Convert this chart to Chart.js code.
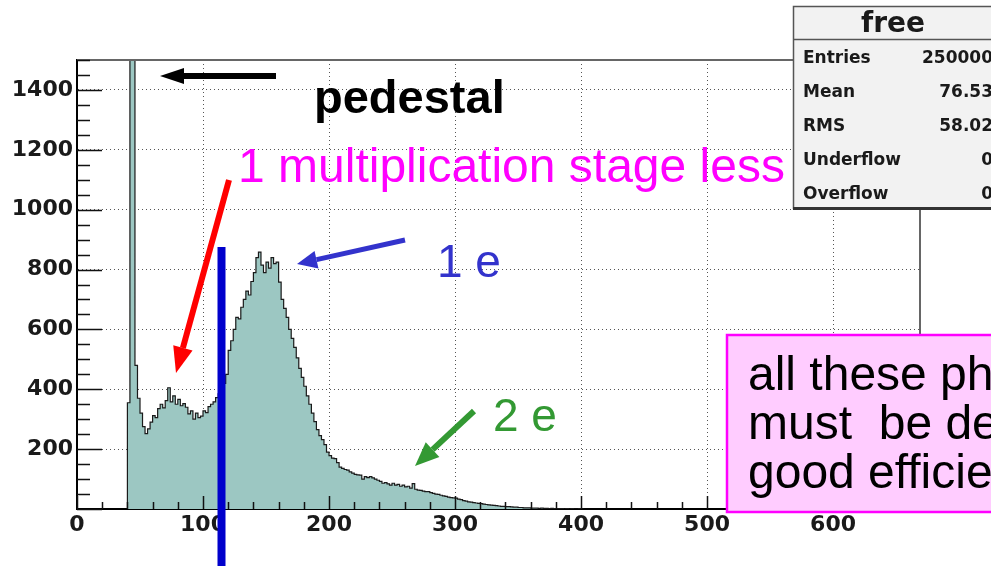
<!DOCTYPE html>
<html>
<head>
<meta charset="utf-8">
<script src="https://cdn.jsdelivr.net/npm/chart.js@4.4.1/dist/chart.umd.min.js"></script>
<style>
  html, body { margin: 0; padding: 0; background: #fff; }
  canvas { display: block; }
</style>
</head>
<body>
<canvas id="chart" width="991" height="566"></canvas>
<script>
// histogram "free": 2-unit bins, first bin starts at 40 (pedestal spike in bins 42/44 runs off scale)
const binLow = 40;
const binWidth = 2;
const counts = [
  355, 41000, 23000, 480, 370, 320, 275, 252, 268, 290,   // 40
  312, 305, 335, 350, 338, 362, 405, 358, 378, 350,       // 60
  366, 345, 352, 340, 318, 328, 300, 320, 305, 310,       // 80
  328, 322, 342, 350, 358, 372, 385, 400, 420, 450,       // 100
  530, 562, 600, 640, 635, 674, 700, 728, 715, 760,       // 120
  790, 840, 858, 815, 790, 825, 805, 840, 820, 825,       // 140
  758, 700, 670, 640, 600, 570, 540, 505, 470, 440,       // 160
  410, 378, 350, 320, 292, 265, 245, 232, 215, 190,       // 180
  178, 170, 168, 155, 140, 136, 132, 130, 124, 120,       // 200
  116, 114, 113, 100, 108, 105, 108, 104, 100, 96,        // 220
  92, 86, 88, 84, 80, 86, 80, 82, 76, 80,                 // 240
  74, 76, 70, 85, 66, 63, 62, 60, 58, 58,                 // 260
  55, 52, 50, 49, 46, 44, 42, 40, 38, 37,                 // 280
  36, 33, 31, 28, 26, 24, 23, 21, 20, 19,                 // 300
  18, 16, 15, 14, 13, 12, 11, 10, 9, 9,                   // 320
  8, 8, 7, 6, 6, 5, 5, 4, 4, 4,                           // 340
  3, 3, 3, 2, 3, 2, 2, 1, 2, 1,                           // 360
  1, 1, 1, 0, 1, 0, 1, 0, 0, 1,                           // 380
  0                                                       // 400
];
const xMin = 0, xMax = 669, xStep = 100, xMinor = 20;
const yMin = 0, yMax = 1500, yStep = 200, yMinor = 50;

const statTitle = 'free';
const statLabels = ['Entries', 'Mean', 'RMS', 'Underflow', 'Overflow'];
const statValues = ['250000', '76.53', '58.02', '0', '0'];

const noteLines = ['all these photoelectrons', 'must  be detected with', 'good efficiency'];

let
  points = [{ x: binLow, y: 0 }],
  tickFont = { family: 'DejaVu Sans', size: 22, weight: 'bold' };

counts.forEach(function(c, i) {
  points.push({ x: binLow + i * binWidth, y: c });
});
points.push({ x: binLow + counts.length * binWidth, y: 0 });

function arrow(ctx, x1, y1, x2, y2, color, w, headLen, headW) {
  let
    ang = Math.atan2(y2 - y1, x2 - x1),
    bx = x2 - Math.cos(ang) * headLen,
    by = y2 - Math.sin(ang) * headLen;
  ctx.save();
  ctx.strokeStyle = color;
  ctx.fillStyle = color;
  ctx.lineWidth = w;
  ctx.lineCap = 'butt';
  ctx.beginPath();
  ctx.moveTo(x1, y1);
  ctx.lineTo(bx, by);
  ctx.stroke();
  ctx.beginPath();
  ctx.moveTo(x2, y2);
  ctx.lineTo(bx + Math.sin(ang) * headW, by - Math.cos(ang) * headW);
  ctx.lineTo(bx - Math.sin(ang) * headW, by + Math.cos(ang) * headW);
  ctx.closePath();
  ctx.fill();
  ctx.restore();
}

const rootFrame = {
  id: 'rootFrame',
  afterDatasetsDraw(chart) {
    let
      ctx = chart.ctx,
      a = chart.chartArea,
      xs = chart.scales.x,
      ys = chart.scales.y;
    ctx.save();
    // top and right frame
    ctx.strokeStyle = '#666';
    ctx.lineWidth = 2;
    ctx.beginPath();
    ctx.moveTo(a.left, a.top);
    ctx.lineTo(a.right, a.top);
    ctx.lineTo(a.right, a.bottom);
    ctx.stroke();
    // inside ticks, ROOT style
    ctx.strokeStyle = '#111';
    ctx.lineWidth = 1.5;
    ctx.beginPath();
    for (let v = yMin; v <= yMax; v += yMinor) {
      let y = Math.round(ys.getPixelForValue(v)) + 0.5;
      ctx.moveTo(a.left, y);
      ctx.lineTo(a.left + (v % yStep === 0 ? 25 : 13), y);
    }
    for (let v = xMin; v <= xMax; v += xMinor) {
      let x = Math.round(xs.getPixelForValue(v)) + 0.5;
      ctx.moveTo(x, a.bottom);
      ctx.lineTo(x, a.bottom - (v % xStep === 0 ? 13 : 7));
    }
    ctx.stroke();
    ctx.restore();
  },
  afterDraw(chart) {
    let ctx = chart.ctx;
    ctx.save();

    // stats box
    ctx.fillStyle = '#f2f2f2';
    ctx.fillRect(793, 6, 210, 203);
    ctx.strokeStyle = '#555';
    ctx.lineWidth = 1.5;
    ctx.strokeRect(793.5, 6.5, 210, 202);
    ctx.beginPath();
    ctx.moveTo(793, 39.5);
    ctx.lineTo(1000, 39.5);
    ctx.stroke();
    ctx.fillStyle = '#333';
    ctx.fillRect(793, 207, 210, 3);
    ctx.fillStyle = '#1a1a1a';
    ctx.font = 'bold 28px "DejaVu Sans"';
    ctx.textAlign = 'center';
    ctx.textBaseline = 'alphabetic';
    ctx.fillText(statTitle, 893, 32);
    ctx.font = 'bold 17px "DejaVu Sans"';
    statLabels.forEach(function(lab, i) {
      let y = 63 + i * 34;
      ctx.textAlign = 'left';
      ctx.fillText(lab, 803, y);
      ctx.textAlign = 'right';
      ctx.fillText(statValues[i], 993, y);
    });

    // pink note box
    ctx.fillStyle = '#ffccff';
    ctx.fillRect(727, 335, 270, 177);
    ctx.strokeStyle = '#ff00ff';
    ctx.lineWidth = 2.5;
    ctx.strokeRect(727, 335, 270, 177);
    ctx.fillStyle = '#000';
    ctx.textAlign = 'left';
    ctx.font = '48px "Liberation Sans"';
    noteLines.forEach(function(t, i) {
      ctx.fillText(t, 748, 390 + i * 49);
    });

    // slide labels
    ctx.font = 'bold 47px "Liberation Sans"';
    ctx.fillStyle = '#000';
    ctx.fillText('pedestal', 314, 113);
    ctx.font = '48px "Liberation Sans"';
    ctx.fillStyle = '#ff00ff';
    ctx.fillText('1 multiplication stage less', 238, 182);
    ctx.font = '46px "Liberation Sans"';
    ctx.fillStyle = '#3333cc';
    ctx.fillText('1 e', 437, 277);
    ctx.fillStyle = '#339933';
    ctx.fillText('2 e', 493, 431);

    // arrows
    arrow(ctx, 276, 76, 160, 76, '#000', 6, 24, 8);
    arrow(ctx, 229, 180, 176, 373, '#ff0000', 6, 26, 10);
    arrow(ctx, 405, 240, 297, 264, '#3333cc', 5, 20, 9);
    arrow(ctx, 474, 411, 415, 466, '#339933', 6, 24, 10);

    // threshold line
    ctx.fillStyle = '#0000cc';
    ctx.fillRect(217.5, 247, 8, 319);
    ctx.restore();
  }
};

let chart = new Chart(document.getElementById('chart').getContext('2d'), {
  type: 'line',
  data: {
    datasets: [{
      data: points,
      stepped: true,
      fill: 'origin',
      backgroundColor: '#9cc7c2',
      borderColor: '#1a1a1a',
      borderWidth: 1.2,
      pointRadius: 0
    }]
  },
  options: {
    responsive: false,
    animation: false,
    devicePixelRatio: 1,
    layout: { padding: { top: 60, right: 71, left: 0, bottom: 0 } },
    plugins: { legend: { display: false }, tooltip: { enabled: false } },
    scales: {
      x: {
        type: 'linear',
        min: xMin,
        max: xMax,
        afterFit: function(s) { s.height = 57; },
        grid: { color: '#555', lineWidth: 1, drawTicks: false },
        border: { display: true, color: '#000', width: 2, dash: [1, 3] },
        ticks: {
          stepSize: xStep,
          autoSkip: false,
          maxRotation: 0,
          padding: 3,
          color: '#1a1a1a',
          font: tickFont,
          callback: function(v) { return v % xStep === 0 ? v : ''; }
        }
      },
      y: {
        min: yMin,
        max: yMax,
        afterFit: function(s) { s.width = 77; },
        grid: { color: '#555', lineWidth: 1, drawTicks: false },
        border: { display: true, color: '#000', width: 2, dash: [1, 3] },
        ticks: {
          stepSize: yStep,
          padding: 4,
          color: '#1a1a1a',
          font: tickFont,
          callback: function(v) { return (v % yStep === 0 && v > 0) ? v : ''; }
        }
      }
    }
  },
  plugins: [rootFrame]
});
</script>
</body>
</html>
